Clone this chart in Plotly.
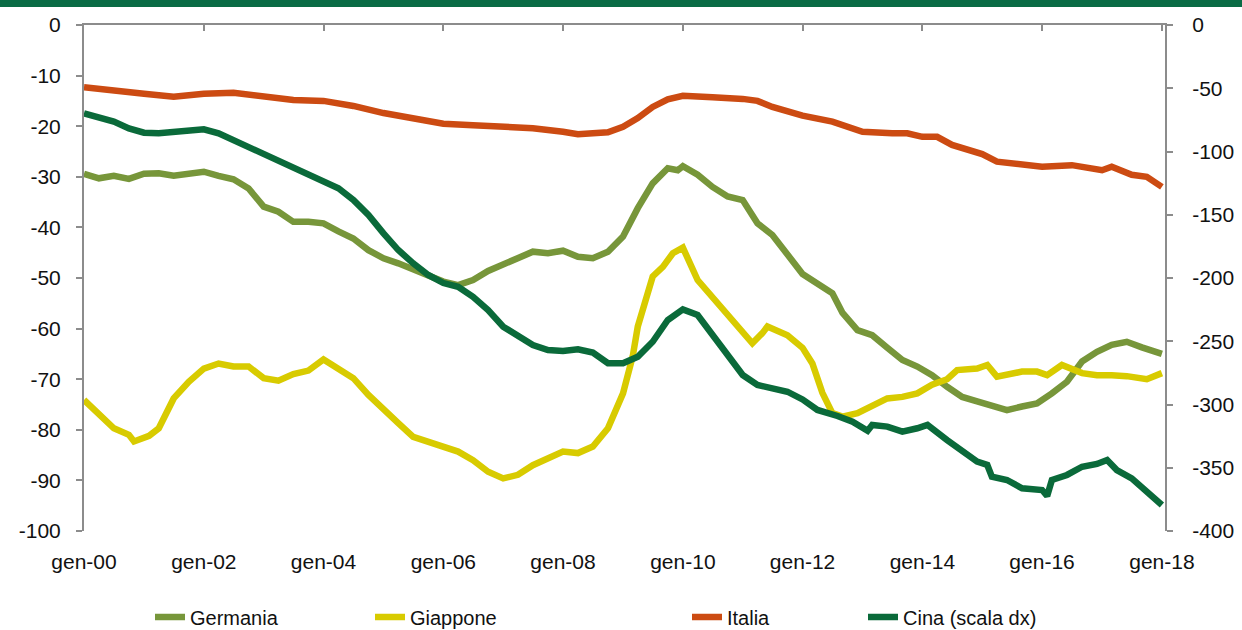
import plotly.graph_objects as go

# ---------------- data ----------------
italia_dates = ["2000-01","2000-07","2001-01","2001-07","2002-01","2002-07","2003-01","2003-07",
                "2004-01","2004-07","2005-01","2005-07","2006-01","2006-07","2007-01","2007-07",
                "2008-01","2008-04","2008-07","2008-10","2009-01","2009-04","2009-07","2009-10",
                "2010-01","2010-04","2010-07","2011-01","2011-04","2011-07","2012-01","2012-07",
                "2013-01","2013-07","2013-10","2014-01","2014-04","2014-07","2014-10","2015-01",
                "2015-04","2015-07","2016-01","2016-07","2016-10","2017-01","2017-03","2017-07",
                "2017-10","2018-01"]
italia_vals = [-12.3,-12.8,-13.6,-14.2,-13.6,-13.4,-14.0,-14.8,
               -15.0,-16.0,-17.4,-18.5,-19.5,-19.8,-20.1,-20.4,
               -21.1,-21.6,-21.4,-21.2,-20.1,-18.4,-16.2,-14.7,
               -14.0,-14.0,-14.3,-14.6,-15.0,-16.2,-17.9,-19.1,
               -21.1,-21.4,-21.4,-22.1,-22.1,-23.7,-24.7,-25.5,
               -27.0,-27.3,-28.0,-27.7,-28.3,-28.7,-28.0,-29.6,
               -30.0,-32.0]

germania_dates = ["2000-01","2000-04","2000-07","2000-10","2001-01","2001-04","2001-07","2001-10",
                  "2002-01","2002-04","2002-07","2002-10","2003-01","2003-04","2003-07","2003-10",
                  "2004-01","2004-04","2004-07","2004-10","2005-01","2005-04","2005-07","2005-10",
                  "2006-01","2006-04","2006-07","2006-10","2007-01","2007-04","2007-07","2007-10",
                  "2008-01","2008-04","2008-07","2008-10","2009-01","2009-04","2009-07","2009-10",
                  "2009-12","2010-01","2010-04","2010-07","2010-10","2011-01","2011-04","2011-07",
                  "2011-10","2012-01","2012-07","2012-09","2012-12","2013-03","2013-06","2013-09",
                  "2013-12","2014-03","2014-06","2014-09","2014-12","2015-03","2015-06","2015-09",
                  "2015-12","2016-03","2016-06","2016-09","2016-12","2017-03","2017-06","2017-09",
                  "2018-01"]
germania_vals = [-29.4,-30.3,-29.8,-30.4,-29.4,-29.3,-29.8,-29.4,
                 -29.0,-29.8,-30.5,-32.3,-35.9,-36.9,-38.9,-38.9,
                 -39.2,-40.8,-42.2,-44.5,-46.1,-47.1,-48.4,-49.7,
                 -50.7,-51.4,-50.4,-48.6,-47.4,-46.1,-44.8,-45.1,
                 -44.6,-45.8,-46.1,-44.8,-41.8,-36.2,-31.3,-28.3,
                 -28.7,-27.9,-29.6,-32.0,-33.9,-34.6,-39.2,-41.5,
                 -45.1,-49.2,-53.0,-56.9,-60.3,-61.3,-63.8,-66.2,
                 -67.5,-69.2,-71.5,-73.5,-74.4,-75.4,-76.1,-75.4,
                 -74.8,-72.8,-70.5,-66.5,-64.6,-63.2,-62.6,-63.7,
                 -65.0]

giappone_dates = ["2000-01","2000-04","2000-07","2000-10","2000-11","2001-02","2001-04","2001-07",
                  "2001-10","2002-01","2002-04","2002-07","2002-10","2003-01","2003-04","2003-07",
                  "2003-10","2004-01","2004-04","2004-07","2004-10","2005-01","2005-04","2005-07",
                  "2005-10","2006-01","2006-04","2006-07","2006-10","2007-01","2007-04","2007-07",
                  "2007-10","2008-01","2008-04","2008-07","2008-10","2009-01","2009-03","2009-04",
                  "2009-07","2009-09","2009-11","2010-01","2010-04","2010-07","2010-10","2011-01",
                  "2011-03","2011-05","2011-06","2011-10","2012-01","2012-03","2012-05","2012-07",
                  "2012-09","2012-12","2013-03","2013-06","2013-09","2013-12","2014-03","2014-06",
                  "2014-08","2014-12","2015-02","2015-04","2015-09","2015-12","2016-02","2016-05",
                  "2016-09","2016-12","2017-03","2017-06","2017-10","2018-01"]
giappone_vals = [-74.1,-76.7,-79.7,-81.0,-82.3,-81.2,-79.7,-73.8,
                 -70.5,-67.9,-66.9,-67.5,-67.5,-69.8,-70.3,-69.0,
                 -68.3,-66.1,-67.9,-69.8,-73.1,-76.1,-78.7,-81.4,
                 -82.3,-83.4,-84.3,-86.0,-88.3,-89.6,-88.9,-87.0,
                 -85.8,-84.3,-84.6,-83.3,-79.7,-72.8,-65.5,-59.6,
                 -49.7,-47.8,-45.1,-44.0,-50.4,-53.7,-57.3,-60.3,
                 -62.9,-60.9,-59.6,-61.3,-63.8,-66.9,-72.7,-76.7,
                 -77.4,-76.7,-75.1,-73.8,-73.5,-72.8,-71.1,-70.0,
                 -68.2,-67.9,-67.2,-69.5,-68.5,-68.5,-69.2,-67.2,
                 -68.8,-69.2,-69.2,-69.4,-70.0,-68.8]

cina_dates = ["2000-01","2000-04","2000-07","2000-10","2001-01","2001-04","2001-07","2001-10",
              "2002-01","2002-04","2002-07","2002-10","2003-01","2003-04","2003-07","2003-10",
              "2004-01","2004-04","2004-07","2004-10","2005-01","2005-04","2005-07","2005-10",
              "2006-01","2006-04","2006-07","2006-10","2007-01","2007-04","2007-07","2007-10",
              "2008-01","2008-04","2008-07","2008-10","2009-01","2009-04","2009-07","2009-10",
              "2010-01","2010-04","2010-07","2010-10","2011-01","2011-04","2011-07","2011-10",
              "2012-01","2012-04","2012-08","2012-11","2013-02","2013-03","2013-06","2013-09",
              "2013-12","2014-02","2014-06","2014-09","2014-12","2015-02","2015-03","2015-06",
              "2015-09","2016-01","2016-02","2016-03","2016-06","2016-09","2016-12","2017-02",
              "2017-04","2017-07","2017-09","2018-01"]
cina_vals = [-69.8,-72.5,-76.4,-81.7,-85.1,-85.6,-84.3,-83.5,
             -82.5,-85.6,-90.9,-96.2,-102.8,-108.0,-112.0,-117.8,
             -123.9,-129.1,-138.3,-150.2,-164.7,-177.9,-188.4,-197.6,
             -204.0,-206.9,-214.8,-225.3,-238.5,-245.1,-253.0,-256.9,
             -257.7,-256.4,-259.0,-267.4,-267.4,-262.2,-250.4,-233.2,
             -224.8,-229.2,-245.1,-262.2,-276.7,-284.6,-287.2,-289.9,
             -296.0,-304.3,-309.1,-313.6,-320.7,-316.2,-317.5,-321.5,
             -318.8,-316.2,-328.1,-336.0,-345.2,-347.8,-357.1,-359.7,
             -366.2,-367.6,-372.3,-359.7,-355.7,-349.2,-347.0,-343.9,
             -351.8,-358.4,-365.0,-379.4]

x_tick_vals = ["2000-01-01","2002-01-01","2004-01-01","2006-01-01","2008-01-01",
               "2010-01-01","2012-01-01","2014-01-01","2016-01-01","2018-01-01"]
x_tick_text = ["gen-00","gen-02","gen-04","gen-06","gen-08",
               "gen-10","gen-12","gen-14","gen-16","gen-18"]
left_ticks = [0,-10,-20,-30,-40,-50,-60,-70,-80,-90,-100]
left_text = ["0","-10","-20","-30","-40","-50","-60","-70","-80","-90","-100"]
right_ticks = [0,-50,-100,-150,-200,-250,-300,-350,-400]
right_text = ["0","-50","-100","-150","-200","-250","-300","-350","-400"]

# ---------------- style ----------------
FONT = "Liberation Sans, Arial, sans-serif"
AX = "#8c8c8c"
X_RANGE = ["2000-01-01", "2018-01-20"]
LW = 6.5

fig = go.Figure()
fig.add_trace(go.Scatter(x=germania_dates, y=germania_vals, name="Germania", mode="lines",
                         line=dict(color="#77963a", width=LW), legend="legend"))
fig.add_trace(go.Scatter(x=giappone_dates, y=giappone_vals, name="Giappone", mode="lines",
                         line=dict(color="#d8cb00", width=LW), legend="legend2"))
fig.add_trace(go.Scatter(x=italia_dates, y=italia_vals, name="Italia", mode="lines",
                         line=dict(color="#cc4b12", width=LW), legend="legend3"))
fig.add_trace(go.Scatter(x=cina_dates, y=cina_vals, name="Cina (scala dx)", mode="lines",
                         line=dict(color="#0a6a3a", width=LW), yaxis="y2", legend="legend4"))

W, H = 1242, 630
L, R, T, B = 84, 77, 25, 99
pw, ph = W - L - R, H - T - B

def px_x(p):
    return (p - L) / pw

def leg(xpix):
    return dict(x=px_x(xpix), xanchor="left", y=(H - B - 617) / ph, yanchor="middle",
                orientation="h", bgcolor="rgba(0,0,0,0)",
                font=dict(family=FONT, size=20, color="#111111"))

fig.update_layout(
    width=W, height=H,
    margin=dict(l=L, r=R, t=T, b=B, autoexpand=False),
    paper_bgcolor="white", plot_bgcolor="white",
    font=dict(family=FONT, size=21, color="#111111"),
    showlegend=True,
    legend=leg(150), legend2=leg(370), legend3=leg(687), legend4=leg(863),
    xaxis=dict(type="date", range=X_RANGE, side="top", anchor="y", automargin=False,
               showline=True, linecolor=AX, linewidth=2,
               ticks="inside", ticklen=6, tickwidth=2, tickcolor=AX,
               tickvals=x_tick_vals, showticklabels=False, showgrid=False, zeroline=False),
    xaxis2=dict(type="date", range=X_RANGE, overlaying="x", side="bottom", anchor="y",
                automargin=False,
                showline=False, ticks="", tickvals=x_tick_vals, ticktext=x_tick_text,
                ticklabelstandoff=16, showgrid=False, zeroline=False,
                tickfont=dict(family=FONT, size=21, color="#111111")),
    yaxis=dict(range=[-100, 0], tickvals=left_ticks, ticktext=left_text, automargin=False,
               showline=True, linecolor=AX, linewidth=2,
               ticks="outside", ticklen=6, tickwidth=2, tickcolor=AX, showgrid=False,
               zeroline=False, ticklabelstandoff=11,
               tickfont=dict(family=FONT, size=21, color="#111111")),
    yaxis2=dict(range=[-400, 0], tickvals=right_ticks, ticktext=right_text, overlaying="y",
                side="right", automargin=False,
                showline=True, linecolor=AX, linewidth=2,
                ticks="outside", ticklen=6, tickwidth=2, tickcolor=AX, showgrid=False,
                zeroline=False, ticklabelstandoff=15,
                tickfont=dict(family=FONT, size=21, color="#111111")),
)

# dummy invisible trace to ensure xaxis2 renders
fig.add_trace(go.Scatter(x=[X_RANGE[0]], y=[None], xaxis="x2", showlegend=False,
                         hoverinfo="skip", mode="lines"))

# top green band
fig.add_shape(type="rect", xref="paper", yref="paper",
              x0=-L / pw, x1=1 + R / pw, y0=1 + (T - 7) / ph, y1=1 + T / ph + 0.01,
              fillcolor="#0a6b45", line=dict(width=0), layer="above")

fig.write_html("out.html", config={"displayModeBar": False},
               post_script="document.body.style.margin='0';document.body.style.padding='0';")
